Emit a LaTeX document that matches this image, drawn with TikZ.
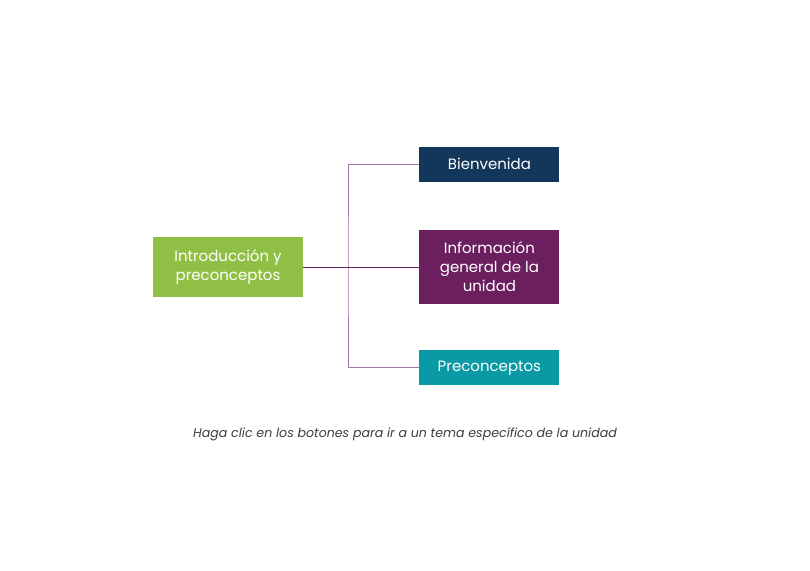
\documentclass[tikz,border=0pt]{standalone}
\usepackage{fontspec}
\setmainfont{Poppins}
\usetikzlibrary{positioning}

\definecolor{introgreen}{HTML}{8FBF45}
\definecolor{navyblue}{HTML}{12375A}
\definecolor{plum}{HTML}{6B1F5F}
\definecolor{teal}{HTML}{0A9AA5}
\definecolor{lightplum}{HTML}{A272A0}
\definecolor{captiongray}{HTML}{3C3C3C}

\begin{document}
\begin{tikzpicture}[x=1pt,y=-1pt,
topic/.style={rectangle, text=white, inner sep=0pt, align=center, font=\fontsize{15}{19}\selectfont, minimum width=140pt},
branch/.style={lightplum, line width=1pt},
trunk/.style={plum, line width=1pt}
]
\useasboundingbox (0,0) rectangle (810,570);

\node[topic, fill=introgreen, minimum width=150pt, minimum height=60pt](intro) at (228,267){Introducción y\\preconceptos};
\node[topic, fill=plum, minimum height=74pt](info)[right=116pt of intro]{Información\\general de la\\unidad};
\node[topic, fill=navyblue, minimum height=35pt](bienv)[above=48pt of info]{Bienvenida};
\node[topic, fill=teal, minimum height=35pt](precon)[below=46pt of info]{Preconceptos};

\coordinate (split) at (348,267);

\node[font=\fontsize{12.6}{15}\selectfont\itshape, text=captiongray](caption) at (405,434){Haga clic en los botones para ir a un tema específico de la unidad};

\draw[branch] (bienv.west) -| (split) |- (precon.west);
\draw[trunk] (intro.east) -- (info.west);
\end{tikzpicture}
\end{document}
